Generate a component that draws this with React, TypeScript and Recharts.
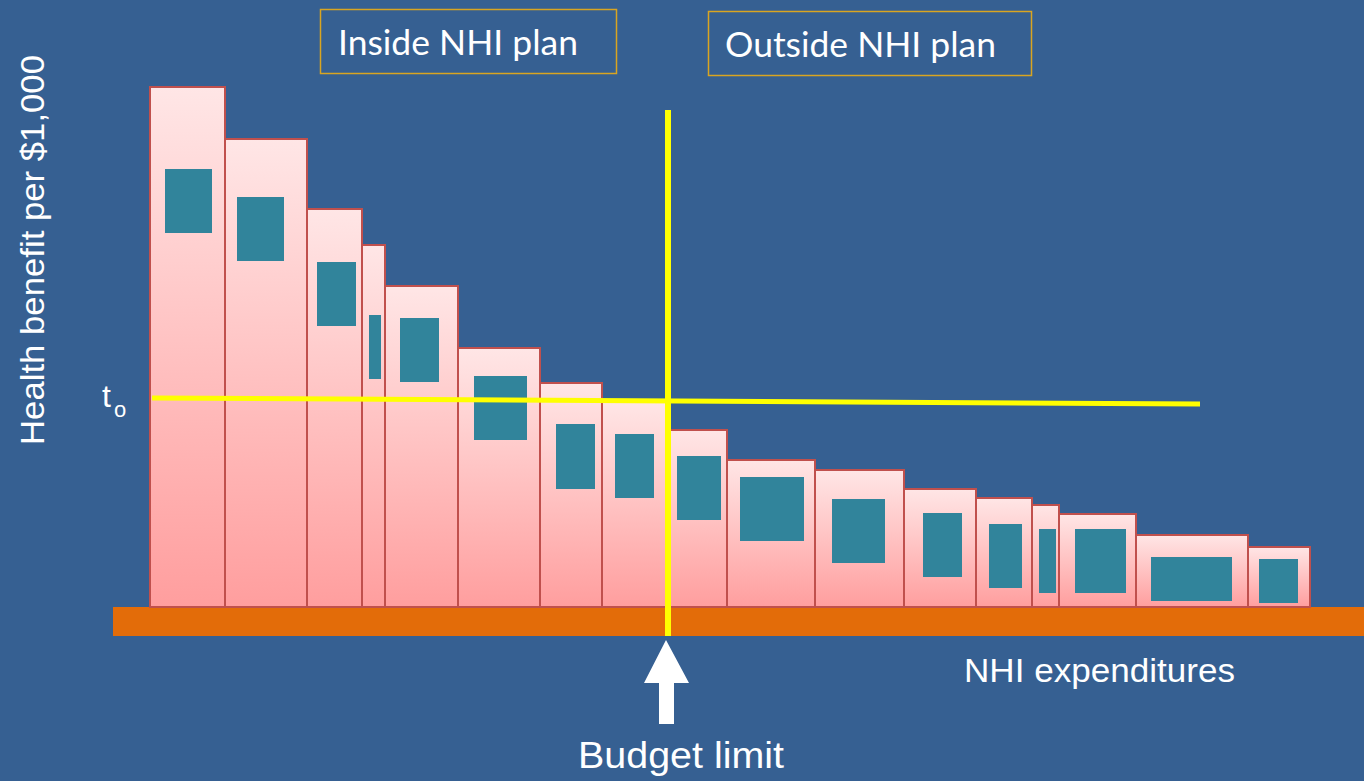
import React from "react";
import { ComposedChart, XAxis, YAxis, ReferenceArea, ReferenceLine } from "recharts";

// spend per intervention (x width, $ units) and health benefit per $1,000 (bar height)
const spend = [7.5, 8.2, 5.5, 2.3, 7.3, 8.2, 6.2, 6.5, 6.0, 8.8, 8.9, 7.2, 5.6, 2.7, 7.7, 11.2, 6.2];
const benefit = [52, 46.8, 39.8, 36.2, 32.1, 25.9, 22.4, 20.5, 17.7, 14.7, 13.7, 11.8, 10.9, 10.2, 9.3, 7.2, 6.0];

// inner (teal) ranges for each intervention
const innerXLow = [1.5, 8.7, 16.7, 21.9, 25.0, 32.4, 40.6, 46.5, 52.7, 59.0, 68.2, 77.3, 83.9, 88.9, 92.5, 100.1, 110.9];
const innerXHigh = [6.2, 13.4, 20.6, 23.1, 28.9, 37.7, 44.5, 50.4, 57.1, 65.4, 73.5, 81.2, 87.2, 90.6, 97.6, 108.2, 114.8];
const innerYLow = [37.4, 34.6, 28.1, 22.8, 22.5, 16.7, 11.8, 10.9, 8.7, 6.6, 4.4, 3.0, 1.9, 1.4, 1.4, 0.6, 0.4];
const innerYHigh = [43.8, 41.0, 34.5, 29.2, 28.9, 23.1, 18.3, 17.3, 15.1, 13.0, 10.8, 9.4, 8.3, 7.8, 7.8, 5.0, 4.8];

// threshold and budget
const thresholdStart = 20.9;
const thresholdEnd = 20.3;
const thresholdXEnd = 105;
const budgetLimit = 51.8;

const X_MAX = 121.4;
const Y_MAX = 52;

const bars = spend.map((w, i) => {
  const start = spend.slice(0, i).reduce((a, b) => a + b, 0);
  return { x1: start, x2: start + w, y: benefit[i] };
});

const inner = innerXLow.map((xl, i) => ({
  x1: xl,
  x2: innerXHigh[i],
  y1: innerYLow[i],
  y2: innerYHigh[i],
}));

export default function App() {
  return (
    <div style={{ position: "relative", width: 1364, height: 781, background: "#366092", overflow: "hidden" }}>
      <style>{`body{margin:0}`}</style>
      <ComposedChart
        width={1364}
        height={781}
        data={[]}
        margin={{ top: 87, right: 0, bottom: 174, left: 150 }}
      >
        <defs>
          <linearGradient id="barFill" x1="0" y1="0" x2="0" y2="1">
            <stop offset="0%" stopColor="#FFE6E6" />
            <stop offset="100%" stopColor="#FF9E9E" />
          </linearGradient>
        </defs>
        <XAxis type="number" dataKey="x" domain={[0, X_MAX]} hide allowDataOverflow />
        <YAxis type="number" domain={[0, Y_MAX]} hide allowDataOverflow />
        <ReferenceArea
          x1={-3.7}
          x2={X_MAX}
          y1={-2.9}
          y2={0}
          fill="#E36C09"
          fillOpacity={1}
          stroke="none"
          ifOverflow="visible"
        />
        {bars.map((b, i) => (
          <ReferenceArea
            key={"bar" + i}
            x1={b.x1}
            x2={b.x2}
            y1={0}
            y2={b.y}
            fill="url(#barFill)"
            fillOpacity={1}
            stroke="#C0504D"
            strokeWidth={2}
            ifOverflow="visible"
          />
        ))}
        {inner.map((r, i) => (
          <ReferenceArea
            key={"in" + i}
            x1={r.x1}
            x2={r.x2}
            y1={r.y1}
            y2={r.y2}
            fill="#31849B"
            fillOpacity={1}
            stroke="none"
            ifOverflow="visible"
          />
        ))}
        <ReferenceLine
          segment={[
            { x: 0.2, y: thresholdStart },
            { x: thresholdXEnd, y: thresholdEnd },
          ]}
          stroke="#FFFF00"
          strokeWidth={5}
          ifOverflow="visible"
        />
        <ReferenceLine
          segment={[
            { x: budgetLimit, y: 49.7 },
            { x: budgetLimit, y: -2.9 },
          ]}
          stroke="#FFFF00"
          strokeWidth={6}
          ifOverflow="visible"
        />
      </ComposedChart>

      <svg
        width={1364}
        height={781}
        style={{ position: "absolute", left: 0, top: 0, pointerEvents: "none" }}
      >
        <rect x={320.5} y={9.5} width={296} height={64} fill="none" stroke="#D9A521" strokeWidth={1.5} />
        <text x={338} y={55} fill="#fff" fontFamily="Lato, sans-serif" fontSize={35} textLength={240} lengthAdjust="spacingAndGlyphs">
          Inside NHI plan
        </text>
        <rect x={708.5} y={11.5} width={323} height={64} fill="none" stroke="#D9A521" strokeWidth={1.5} />
        <text x={725} y={57} fill="#fff" fontFamily="Lato, sans-serif" fontSize={35} textLength={271} lengthAdjust="spacingAndGlyphs">
          Outside NHI plan
        </text>

        <text
          transform="translate(44,445) rotate(-90)"
          fill="#fff"
          fontFamily="'Liberation Sans', Arial, sans-serif"
          fontSize={34}
          textLength={390}
          lengthAdjust="spacingAndGlyphs"
        >
          Health benefit per $1,000
        </text>

        <text x={102} y={407} fill="#fff" fontFamily="'Liberation Sans', Arial, sans-serif" fontSize={32}>
          t
        </text>
        <text x={114} y={417} fill="#fff" fontFamily="'Liberation Sans', Arial, sans-serif" fontSize={22}>
          o
        </text>

        <text x={964} y={682} fill="#fff" fontFamily="'Liberation Sans', Arial, sans-serif" fontSize={34} textLength={271} lengthAdjust="spacingAndGlyphs">
          NHI expenditures
        </text>

        <polygon points="666,640 644,683 659,683 659,724 674,724 674,683 689,683" fill="#fff" />
        <text x={578} y={768} fill="#fff" fontFamily="'Liberation Sans', Arial, sans-serif" fontSize={36} textLength={206} lengthAdjust="spacingAndGlyphs">
          Budget limit
        </text>
      </svg>
    </div>
  );
}
